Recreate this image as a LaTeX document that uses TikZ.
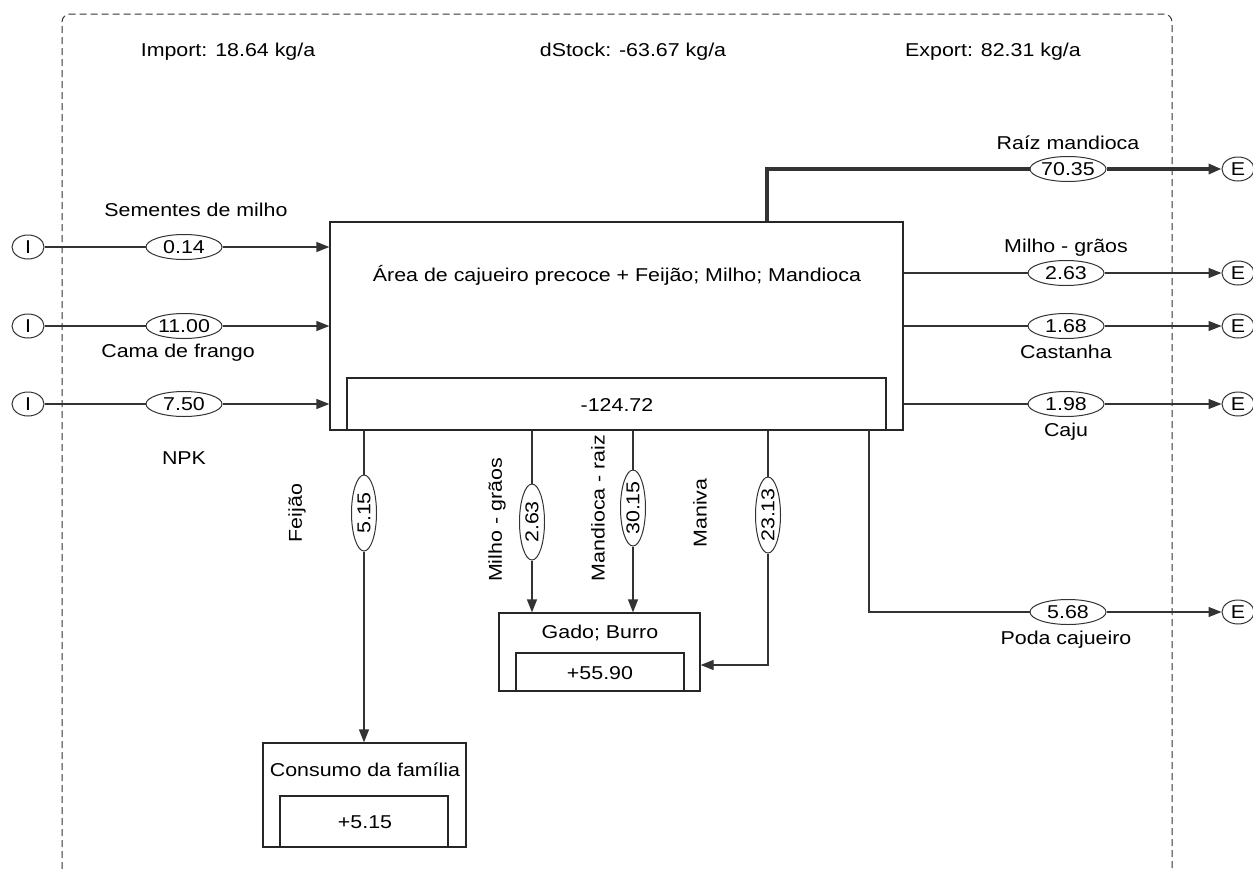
\documentclass[tikz,border=0pt]{standalone}
\usepackage{fontspec}
\setmainfont{Liberation Sans}[FakeStretch=1.15]
\usetikzlibrary{arrows.meta,shapes.geometric,fit}

\begin{document}
\begin{tikzpicture}[x=0.5pt, y=-0.5pt, font=\fontsize{9.3}{11}\selectfont,
    >={Triangle[length=6.5pt,width=5pt]},
    flow/.style={draw=black!80, line width=0.65pt},
    proc/.style={draw=black!85, line width=0.65pt, inner sep=0pt},
    val/.style={ellipse, draw=black!80, line width=0.5pt, fill=white,
        minimum width=38pt, minimum height=12.5pt, inner sep=0pt},
    term/.style={ellipse, draw=black!80, line width=0.5pt, fill=white,
        minimum width=16pt, minimum height=12pt, inner sep=0pt}]
    % --- 1. Canvas and system border ---
    \path[fill=white, use as bounding box] (0,0) rectangle (1253,868);
    \draw[black!80, line width=0.5pt, dash pattern=on 3.5pt off 2pt, rounded corners=4pt]
        (62,880) -- (62,14) -- (1172,14) -- (1172,880);

    % --- 2. Balance header ---
    \node (import) at (228,52) {Import: 18.64 kg/a};
    \node (dstock) at (633,52) {dStock: -63.67 kg/a};
    \node (export) at (993,52) {Export: 82.31 kg/a};

    % --- 3. Processes ---
    \node[proc, fit={(330,222) (903,430)}] (area) {};
    \node[proc, fit={(347,378) (886,430)}] (areaStock) {};
    \node (areaName) at (617,275) {Área de cajueiro precoce + Feijão; Milho; Mandioca};
    \node (areaValue) at (617,405) {-124.72};

    \node[proc, fit={(499,613) (700,691)}] (gado) {};
    \node[proc, fit={(516,653) (684,691)}] (gadoStock) {};
    \node (gadoName) at (600,633) {Gado; Burro};
    \node (gadoValue) at (600,673) {+55.90};

    \node[proc, fit={(263,743) (466,847)}] (consumo) {};
    \node[proc, fit={(280,796) (448,847)}] (consumoStock) {};
    \node (consumoName) at (365,770) {Consumo da família};
    \node (consumoValue) at (365,822) {+5.15};

    % --- 4. Imports ---
    \node[term] (iSem) at (28,247) {I};
    \node[term] (iCama) at (28,326) {I};
    \node[term] (iNpk) at (28,404) {I};
    \node[val] (vSem) at (184,247) {0.14};
    \node[val] (vCama) at (184,326) {11.00};
    \node[val] (vNpk) at (184,404) {7.50};
    \draw[flow,->] (iSem) -- (vSem) -- (area.west |- vSem);
    \draw[flow,->] (iCama) -- (vCama) -- (area.west |- vCama);
    \draw[flow,->] (iNpk) -- (vNpk) -- (area.west |- vNpk);
    \node (lSem) at (196,210) {Sementes de milho};
    \node (lCama) at (178,353) {Cama de frango};
    \node (lNpk) at (184,458) {NPK};

    % --- 5. Exports ---
    \node[term] (eRaiz) at (1238,169) {E};
    \node[term] (eMil) at (1238,273) {E};
    \node[term] (eCas) at (1238,326) {E};
    \node[term] (eCaj) at (1238,404) {E};
    \node[term] (ePoda) at (1238,612) {E};
    \node[val] (vRaiz) at (1068,169) {70.35};
    \node[val] (vMil) at (1066,273) {2.63};
    \node[val] (vCas) at (1066,326) {1.68};
    \node[val] (vCaj) at (1066,404) {1.98};
    \node[val] (vPoda) at (1068,612) {5.68};
    \coordinate (raizUp) at (767,169);
    \coordinate (podaDown) at (869,430);
    \draw[flow, line width=2pt, ->] (area.north -| raizUp) -- (raizUp) -- (vRaiz) -- (eRaiz);
    \draw[flow,->] (area.east |- vMil) -- (vMil) -- (eMil);
    \draw[flow,->] (area.east |- vCas) -- (vCas) -- (eCas);
    \draw[flow,->] (area.east |- vCaj) -- (vCaj) -- (eCaj);
    \draw[flow,->] (podaDown) |- (vPoda) -- (ePoda);
    \node (lRaiz) at (1068,143) {Raíz mandioca};
    \node (lMil) at (1066,248) {Milho - grãos};
    \node (lCas) at (1066,352) {Castanha};
    \node (lCaj) at (1066,432) {Caju};
    \node (lPoda) at (1066,640) {Poda cajueiro};

    % --- 6. Internal flows ---
    \node[val, rotate=90] (vFei) at (364,513) {5.15};
    \node[val, rotate=90] (vMilG) at (532,522) {2.63};
    \node[val, rotate=90] (vMan) at (633,508) {30.15};
    \node[val, rotate=90] (vManiva) at (768,515) {23.13};
    \draw[flow,->] (area.south -| vFei) -- (vFei) -- (vFei |- consumo.north);
    \draw[flow,->] (area.south -| vMilG) -- (vMilG) -- (vMilG |- gado.north);
    \draw[flow,->] (area.south -| vMan) -- (vMan) -- (vMan |- gado.north);
    \draw[flow,->] (area.south -| vManiva) -- (vManiva) |- ([yshift=-6.5pt]gado.east);
    \node[rotate=90] (lFei) at (297,513) {Feijão};
    \node[rotate=90] (lMilG) at (497,520) {Milho - grãos};
    \node[rotate=90] (lMan) at (598,508) {Mandioca - raiz};
    \node[rotate=90] (lManiva) at (700,513) {Maniva};
\end{tikzpicture}
\end{document}
